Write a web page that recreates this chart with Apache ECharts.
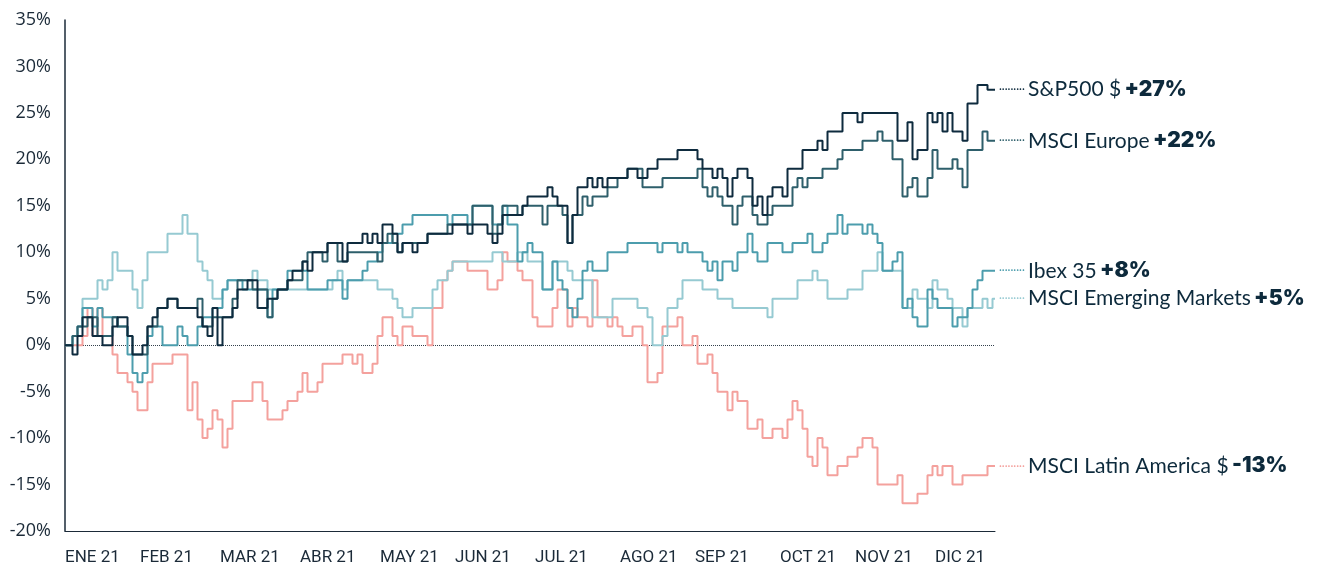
<!DOCTYPE html>
<html>
<head>
<meta charset="utf-8">
<script src="https://cdn.jsdelivr.net/npm/echarts@6/dist/echarts.min.js"></script>
<style>
    html, body { margin: 0; padding: 0; background: #fff; }
    #line-chart { width: 1320px; height: 572px; }
</style>
</head>
<body>
<div id="line-chart"></div>
<script>

// month labels and the index of the first point of each month
const months = ['ENE 21', 'FEB 21', 'MAR 21', 'ABR 21', 'MAY 21', 'JUN 21', 'JUL 21', 'AGO 21', 'SEP 21', 'OCT 21', 'NOV 21', 'DIC 21'];
const monthStart = [0, 15, 31, 47, 63, 78, 94, 111, 126, 143, 158, 174];
const pointCount = 187;

const yTicks = [-20, -15, -10, -5, 0, 5, 10, 15, 20, 25, 30, 35];

const seriesNames = ['S&P500 $', 'MSCI Europe', 'Ibex 35', 'MSCI Emerging Markets', 'MSCI Latin America $'];
const seriesChange = ['+27%', '+22%', '+8%', '+5%', '-13%'];
const seriesColors = ['#0e2b3e', '#2e5f6b', '#4c9dad', '#96cad2', '#f4a19d'];

// cumulative return, %
const sp500 = [0,0,-1,1,3,3,1,1,0,0, 2,3,3,1,-1,-1,0,2,3,4, 4,5,5,4,4,4,4,3,2,1,
    4,0,3,3,4,6,6,7,7,4, 4,5,5,6,6,7,8,8,9,8, 10,10,10,11,11,11,9,11,11,11,
    12,11,12,11,13,13,12,10,11,11, 10,11,11,12,12,12,12,12,13,13, 13,12,13,13,13,12,11,12,14,14,
    14,14,15,16,16,16,16,17,16,15, 15,11,14,17,17,18,17,18,17,18, 18,18,18,19,19,18,18,19,19,20,
    20,20,20,21,21,21,21,20,19,19, 18,19,18,16,18,19,19,18,15,16, 14,16,17,17,16,19,19,19,21,21,
    21,22,21,23,23,23,25,25,25,24, 25,25,25,25,25,25,25,22,22,24, 20,21,21,25,24,25,23,25,23,23,
    22,26,26,28,28,27.5,27.5];

const europe = [0,0,1,2,2,3,3,1,1,1, 3,2,2,1,-1,-1,-1,2,2,4, 4,5,5,4,4,4,4,5,2,2,
    3,3,3,3,5,7,7,7,6,6, 6,3,5,6,6,7,7,7,9,10, 10,10,9,11,11,9,9,10,10,10,
    10,10,10,9,11,12,11,10,11,11, 11,11,11,12,12,12,12,13,13,13, 13,13,15,15,15,15,12,13,15,15,
    15,14,15,15,15,15,13,15,15,15, 14,11,14,14,16,15,16,16,16,17, 17,18,18,19,19,19,17,17,17,17,
    18,18,18,18,18,18,18,19,17,16, 17,16,15,15,13,15,16,16,14,13, 13,14,15,15,15,15,17,18,17,18,
    18,18,19,19,19,20,21,21,21,21, 22,22,22,23,22,22,20,20,16,17, 18,16,16,18,21,19,19,19,20,19,
    17,21,21,21,23,22,22];

const ibex = [0,0,1,2,4,4,2,4,3,3, 3,2,2,-1,-3,-4,-3,1,2,2, 0,0,0,2,1,0,0,2,3,3,
    4,4,6,7,7,7,6,6,6,6, 6,3,6,6,6,8,8,8,8,6, 6,6,6,7,7,7,5,7,7,7,
    8,9,9,10,11,11,12,12,13,13, 14,14,14,14,14,14,14,13,14,14, 14,13,15,15,15,15,13,13,15,13,
    13,9,10,11,10,10,6,6,9,7, 6,4,3,5,8,9,8,8,8,10, 10,10,10,11,11,11,11,11,11,10,
    11,11,11,10,11,10,10,10,9,8, 9,7,9,9,8,10,10,12,10,9, 9,11,11,11,10,10,11,11,11,12,
    10,10,11,12,12,14,12,13,13,13, 12,13,12,11,8,8,9,10,4,5, 3,2,2,6,5,4,4,4,2,3,
    3,4,6,7,8,8,8];

const emerging = [0,0,1,2,5,5,5,7,6,7, 10,8,8,8,6,4,7,10,10,10, 10,12,12,12,14,12,12,9,8,7,
    5,5,6,7,7,7,7,7,8,7, 7,6,6,6,6,6,6,6,6,6, 6,6,6,6,7,8,6,7,7,7,
    7,7,7,6,6,6,5,4,3,3, 4,4,4,4,6,7,7,8,9,9, 9,9,9,9,9,9,10,10,9,9,
    9,10,10,9,9,9,6,6,9,9, 9,8,7,7,7,7,3,3,3,3, 5,5,5,5,5,4,4,3,0,0,
    1,4,4,5,7,7,7,7,6,6, 6,5,5,5,4,4,4,4,4,4, 4,3,5,5,5,5,5,7,7,7,
    8,7,7,5,5,5,5,6,6,6, 8,8,8,10,8,8,8,8,4,4, 6,5,5,4,7,6,6,5,4,4,
    2,4,4,4,5,4,5];

const latam = [0,0,0,0,1,4,1,4,1,1, -1,-3,-3,-4,-5,-7,-7,-4,-2,-2, -2,-2,-1,-1,-1,-7,-4,-8,-10,-9,
    -7,-8,-11,-9,-6,-6,-6,-6,-4,-4, -6,-8,-8,-8,-7,-6,-6,-5,-3,-5, -5,-4,-2,-2,-2,-2,-1,-1,-2,-1,
    -3,-3,-2,1,3,3,1,0,2,2, 1,1,1,0,4,4,7,8,9,9, 9,8,8,8,8,6,6,7,10,9,
    9,8,7,7,3,2,2,2,4,6, 6,2,4,3,3,2,7,3,3,2, 3,2,1,1,2,2,0,-4,-4,-3,
    2,2,2,3,0,0,1,-2,-2,-1, -3,-5,-5,-7,-5,-6,-6,-9,-9,-8, -10,-10,-9,-9,-10,-8,-6,-7,-9,-12,
    -13,-10,-11,-14,-14,-13,-13,-12,-12,-11, -10,-10,-11,-15,-15,-15,-15,-14,-17,-17, -17,-16,-16,-14,-13,-14,-13,-13,-15,-15,
    -14,-14,-14,-14,-14,-13,-13];

const seriesData = [sp500, europe, ibex, emerging, latam];

// category labels: month name at the first point of the month, blank elsewhere
let categories = [];
for (let i = 0; i < pointCount; i++) {
    let m = monthStart.indexOf(i);
    categories.push(m >= 0 ? months[m] : '');
}

let myChart = echarts.init(document.getElementById('line-chart'));

let series = [];
// draw light lines first so the S&P ends on top
for (let s = seriesData.length - 1; s >= 0; s--) {
    series.push({
        name: seriesNames[s],
        type: 'line',
        step: 'middle',
        symbol: 'none',
        data: seriesData[s],
        color: seriesColors[s],
        lineStyle: { width: 2, color: seriesColors[s] },
        z: 10 - s,
        endLabel: {
            show: true,
            distance: 4,
            formatter: function () {
                return '{d|\u00b7\u00b7\u00b7\u00b7\u00b7\u00b7\u00b7\u00b7\u00b7} {n|' + seriesNames[s] + '} {b|' + seriesChange[s] + '}';
            },
            rich: {
                d: { color: seriesColors[s], fontSize: 11, fontFamily: 'Lato' },
                n: { color: '#0d2a3c', fontSize: 21, fontFamily: 'Lato' },
                b: { color: '#0d2a3c', fontSize: 21, fontFamily: 'Inter', fontWeight: 900 }
            }
        }
    });
}

// dotted zero line
series[series.length - 1].markLine = {
    silent: true,
    symbol: 'none',
    label: { show: false },
    lineStyle: { type: 'dotted', color: '#33414d', width: 1 },
    data: [{ yAxis: 0 }]
};

let option = {
    animation: false,
    backgroundColor: '#ffffff',
    grid: { left: 65, right: 325, top: 20, bottom: 41 },
    xAxis: {
        type: 'category',
        data: categories,
        boundaryGap: false,
        axisLine: { onZero: false, lineStyle: { color: '#1b2a38', width: 1 } },
        axisTick: { show: false },
        axisLabel: {
            interval: function (idx, val) { return val !== ''; },
            align: 'left',
            margin: 18,
            color: '#1b2a38',
            fontSize: 17,
            fontFamily: 'Roboto'
        },
        splitLine: { show: false }
    },
    yAxis: {
        type: 'value',
        min: yTicks[0],
        max: yTicks[yTicks.length - 1],
        interval: 5,
        axisLine: { show: true, lineStyle: { color: '#1b2a38', width: 1.5 } },
        axisTick: { show: false },
        axisLabel: {
            formatter: '{value}%',
            margin: 14,
            color: '#1b2a38',
            fontSize: 18,
            fontFamily: 'Open Sans'
        },
        splitLine: { show: false }
    },
    series: series
};

myChart.setOption(option);

</script>
</body>
</html>
